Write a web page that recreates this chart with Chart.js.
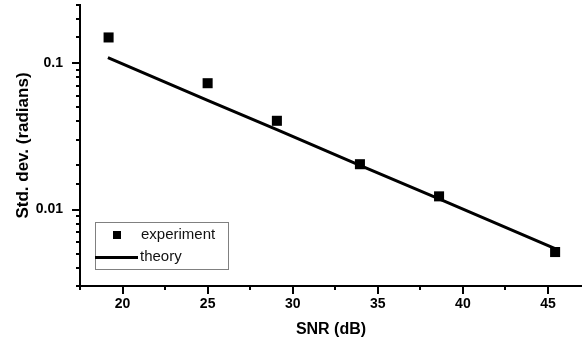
<!DOCTYPE html>
<html>
<head>
<meta charset="utf-8">
<script src="https://cdn.jsdelivr.net/npm/chart.js@4/dist/chart.umd.min.js"></script>
<style>
    html, body { margin: 0; padding: 0; background: #fff; }
    #wrap { width: 582px; height: 341px; }
</style>
</head>
<body>
<div id="wrap"><canvas id="chart" width="582" height="341"></canvas></div>
<script>
// data
const snrExp = [19.18, 25.0, 29.07, 33.95, 38.6, 45.42];
const stdExp = [0.150, 0.073, 0.0404, 0.0204, 0.0123, 0.00512];
const snrTheory = [19.14, 25.0, 29.07, 33.95, 38.6, 45.42];
const stdTheory = [0.109, 0.0558, 0.0351, 0.0200, 0.0118, 0.0054];
const xMajorTicks = [20, 25, 30, 35, 40, 45];
const xMinorTicks = [17.5, 22.5, 27.5, 32.5, 37.5, 42.5];
const yLabelTicks = [0.1, 0.01];
const seriesNames = ['experiment', 'theory'];

const FONT = '"Liberation Sans", Arial, Helvetica, sans-serif';

// kill the extra room Chart.js keeps for edge labels
function noPadding(scale) {
    scale.paddingTop = 0;
    scale.paddingBottom = 0;
    scale.paddingLeft = 0;
    scale.paddingRight = 0;
}

// tick marks drawn outward, major longer than minor
const tickMarks = {
    id: 'tickMarks',
    afterDraw(chart) {
        const ctx = chart.ctx;
        const xs = chart.scales.x;
        const ys = chart.scales.y;
        const area = chart.chartArea;
        ctx.save();
        ctx.strokeStyle = '#000';
        ctx.lineWidth = 2;
        ctx.beginPath();
        xMajorTicks.forEach(v => {
            const px = Math.round(xs.getPixelForValue(v));
            ctx.moveTo(px, area.bottom);
            ctx.lineTo(px, area.bottom + 8);
        });
        xMinorTicks.forEach(v => {
            const px = Math.round(xs.getPixelForValue(v));
            ctx.moveTo(px, area.bottom);
            ctx.lineTo(px, area.bottom + 4);
        });
        ys.ticks.forEach(t => {
            const py = Math.round(ys.getPixelForValue(t.value));
            if (py < area.top - 1 || py > area.bottom + 1) return;
            const major = yLabelTicks.some(v => Math.abs(v - t.value) < 1e-9);
            ctx.moveTo(area.left, py);
            ctx.lineTo(area.left - (major ? 8 : 4), py);
        });
        ctx.stroke();
        ctx.restore();
    }
};

// boxed legend in the lower left corner
const boxLegend = {
    id: 'boxLegend',
    afterDraw(chart) {
        const ctx = chart.ctx;
        const left = 95, top = 222, w = 133, h = 47;
        ctx.save();
        ctx.fillStyle = '#fff';
        ctx.fillRect(left, top, w, h);
        ctx.strokeStyle = '#808080';
        ctx.lineWidth = 1;
        ctx.strokeRect(left + 0.5, top + 0.5, w, h);

        ctx.fillStyle = '#000';
        ctx.fillRect(113, 231, 8, 8);
        ctx.strokeStyle = '#000';
        ctx.lineWidth = 3;
        ctx.beginPath();
        ctx.moveTo(95, 257.5);
        ctx.lineTo(138, 257.5);
        ctx.stroke();

        ctx.fillStyle = '#111';
        ctx.font = '15px ' + FONT;
        ctx.textBaseline = 'middle';
        ctx.textAlign = 'left';
        ctx.fillText(seriesNames[0], 141, 235);
        ctx.fillText(seriesNames[1], 140, 257);
        ctx.restore();
    }
};

const ctx = document.getElementById('chart').getContext('2d');
new Chart(ctx, {
    type: 'scatter',
    data: {
        datasets: [
            {
                label: seriesNames[0],
                data: snrExp.map((x, i) => ({ x: x, y: stdExp[i] })),
                pointStyle: 'rect',
                pointRadius: 7.1,
                pointBorderWidth: 0,
                backgroundColor: '#000',
                borderColor: '#000',
                showLine: false,
                clip: false,
                order: 1
            },
            {
                label: seriesNames[1],
                data: snrTheory.map((x, i) => ({ x: x, y: stdTheory[i] })),
                showLine: true,
                pointRadius: 0,
                borderColor: '#000',
                borderWidth: 3,
                clip: false,
                order: 2
            }
        ]
    },
    options: {
        responsive: false,
        animation: false,
        layout: { autoPadding: false, padding: { top: 5, right: 0, left: 0, bottom: 0 } },
        plugins: {
            legend: { display: false },
            tooltip: { enabled: false }
        },
        scales: {
            x: {
                type: 'linear',
                min: 17.5,
                max: 47,
                afterFit: scale => { scale.height = 55; noPadding(scale); },
                afterBuildTicks: scale => {
                    scale.ticks = xMajorTicks.map(v => ({ value: v }));
                },
                grid: { display: false, drawTicks: false },
                border: { display: true, color: '#000', width: 2 },
                ticks: {
                    color: '#000',
                    padding: 10,
                    autoSkip: false,
                    maxRotation: 0,
                    font: { family: FONT, size: 14, weight: 'bold' }
                },
                title: {
                    display: true,
                    text: 'SNR (dB)',
                    color: '#000',
                    padding: { top: 2, bottom: 2 },
                    font: { family: FONT, size: 16, weight: 'bold' }
                }
            },
            y: {
                type: 'logarithmic',
                min: 0.003,
                max: 0.25,
                afterFit: scale => { scale.width = 80; noPadding(scale); },
                grid: { display: false, drawTicks: false },
                border: { display: true, color: '#000', width: 2 },
                ticks: {
                    color: '#000',
                    padding: 17,
                    autoSkip: false,
                    font: { family: FONT, size: 14, weight: 'bold' },
                    callback: value => {
                        if (Math.abs(value - 0.1) < 1e-9) return '0.1';
                        if (Math.abs(value - 0.01) < 1e-9) return '0.01';
                        return '';
                    }
                },
                title: {
                    display: true,
                    text: 'Std. dev. (radians)',
                    color: '#000',
                    padding: { top: 13, bottom: 0 },
                    font: { family: FONT, size: 17, weight: 'bold' }
                }
            }
        }
    },
    plugins: [tickMarks, boxLegend]
});
</script>
</body>
</html>
